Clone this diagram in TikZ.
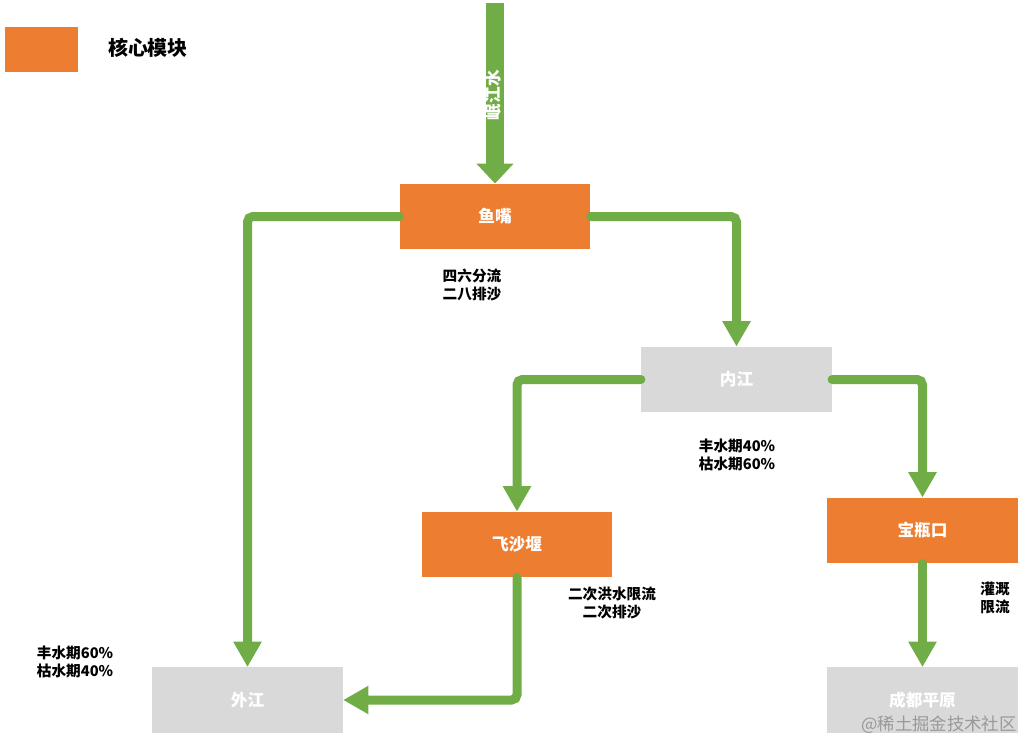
\documentclass[tikz,border=0pt]{standalone}
\usepackage{fontspec}
\setmainfont{Noto Sans CJK SC}
\usetikzlibrary{arrows.meta}
\definecolor{coreorange}{HTML}{ED7D31}
\definecolor{sidegray}{HTML}{D9D9D9}
\definecolor{flowgreen}{HTML}{70AD47}
\tikzset{
  corebox/.style={fill=coreorange, text=white, font=\bfseries\fontsize{12.5}{14}\selectfont,
    minimum width=143pt, minimum height=49pt, inner sep=0pt},
  sidebox/.style={corebox, fill=sidegray},
  note/.style={font=\bfseries\fontsize{11}{14}\selectfont, inner sep=0pt},
  flow/.style={draw=flowgreen, line width=6.75pt, line cap=round, rounded corners=4pt,
    -{Triangle[width=20pt,length=19pt]}}
}

\begin{document}
\begin{tikzpicture}[x=0.75pt, y=-0.75pt]
    \useasboundingbox (0,0) rectangle (1026,743);
    % legend
    \node[corebox, minimum width=55pt, minimum height=34pt] (legend) at (41.5,49.5) {};
    \node[font=\bfseries\fontsize{15}{18}\selectfont] (legendtext) at (148,48) {核心模块};

    \node[corebox] (yuzui) at (495,216.5) {鱼嘴};
    \node[sidebox] (neijiang) at (736.5,379.5) {内江};
    \node[corebox] (feishayan) at (517,544.5) {飞沙堰};
    \node[corebox] (baopingkou) at (922.5,530.5) {宝瓶口};
    \node[sidebox] (waijiang) at (247.5,700) {外江};
    \node[sidebox] (chengdu) at (922.5,700) {成都平原};

    \coordinate (source) at (495,3);
    \draw[draw=flowgreen, line width=14pt, -{Triangle[width=27pt,length=15pt]}] (source) -- (yuzui.north);
    \node[rotate=90, text=white, font=\bfseries\fontsize{12.5}{14}\selectfont] (minjiang) at (493,95) {岷江水};

    \draw[flow] (yuzui.west) -| (waijiang.north);
    \draw[flow] (yuzui.east) -| (neijiang.north);
    \draw[flow] (neijiang.west) -| (feishayan.north);
    \draw[flow] (neijiang.east) -| (baopingkou.north);
    \draw[flow] (feishayan.south) |- (waijiang.east);
    \draw[flow] (baopingkou.south) -- (chengdu.north);

    \node[note, align=left] (fenliu) at (472,285) {四六分流\\二八排沙};
    \node[note, align=left] (neiratio) at (737,455) {丰水期40\%\\枯水期60\%};
    \node[note, align=center] (paisha) at (612,603) {二次洪水限流\\二次排沙};
    \node[note, align=left] (guangai) at (995,598) {灌溉\\限流};
    \node[note, align=left] (wairatio) at (75,662) {丰水期60\%\\枯水期40\%};

    \node[text=black!40, font=\fontsize{13}{15}\selectfont, inner sep=0pt] (mark) at (939,725) {@稀土掘金技术社区};
  \end{tikzpicture}
\end{document}
